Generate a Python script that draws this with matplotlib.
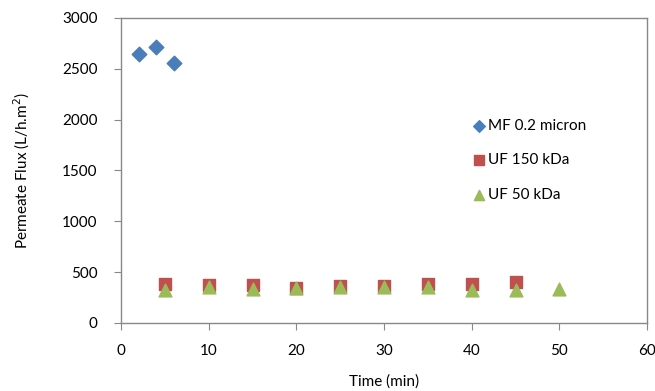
import matplotlib.pyplot as plt

plt.rcParams['font.family'] = ['Lato', 'DejaVu Sans']

# MF 0.2 micron
mf_time = [2, 4, 6]
mf_flux = [2645, 2710, 2560]

# UF 150 kDa
uf150_time = [5, 10, 15, 20, 25, 30, 35, 40, 45]
uf150_flux = [385, 370, 375, 345, 360, 365, 385, 380, 405]

# UF 50 kDa
uf50_time = [5, 10, 15, 20, 25, 30, 35, 40, 45, 50]
uf50_flux = [320, 355, 335, 340, 355, 355, 355, 325, 320, 330]

xticks = [0, 10, 20, 30, 40, 50, 60]
yticks = [0, 500, 1000, 1500, 2000, 2500, 3000]

fig = plt.figure(figsize=(6.55, 3.91), dpi=100)
ax = fig.add_axes([0.185, 0.174, 0.803, 0.780])

ax.scatter(mf_time, mf_flux, marker='D', s=55, color='#4a7ebb', label='MF 0.2 micron', zorder=3)
ax.scatter(uf150_time, uf150_flux, marker='s', s=80, color='#c0504d', label='UF 150 kDa', zorder=3)
ax.scatter(uf50_time, uf50_flux, marker='^', s=85, color='#9bbb59', label='UF 50 kDa', zorder=4)

ax.set_xlim(0, 60)
ax.set_ylim(0, 3000)
ax.set_xticks(xticks)
ax.set_yticks(yticks)

for sp in ax.spines.values():
    sp.set_color('#888888')
    sp.set_linewidth(1.0)
ax.tick_params(direction='out', length=5, color='#888888', labelsize=11, labelcolor='black')
ax.tick_params(axis='x', pad=10)
ax.tick_params(axis='y', pad=12)

ax.set_xlabel('Time (min)', fontsize=11, labelpad=12)
ax.set_ylabel('Permeate Flux (L/h.m$^2$)', fontsize=11, labelpad=22)

ax.legend(loc='upper left', bbox_to_anchor=(0.64, 0.715), frameon=False, fontsize=11,
          handletextpad=0.1, labelspacing=1.35, markerscale=0.8, handlelength=1.0)

fig.savefig('out.png', dpi=100)
